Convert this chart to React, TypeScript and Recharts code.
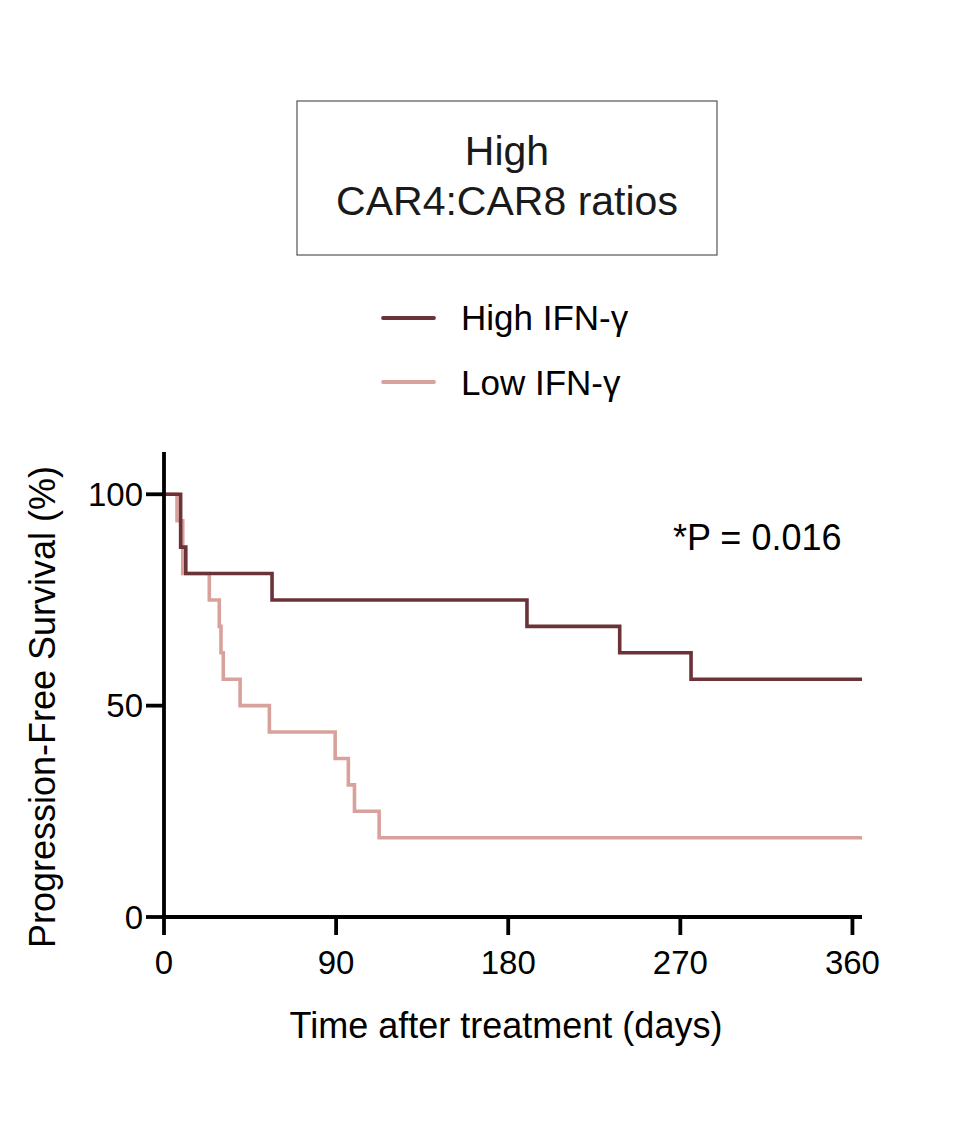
import { LineChart, Line, XAxis, YAxis } from "recharts";

const FONT = "'Liberation Sans', Arial, Helvetica, sans-serif";

// Kaplan-Meier steps (days, % progression-free)
const highDays = [0, 8.7, 11.4, 56.5, 189.8, 238.3, 275.6, 365];
const highPfs = [100, 87.5, 81.25, 75, 68.75, 62.5, 56.25, 56.25];

const lowDays = [0, 6.8, 9.8, 23.7, 28.9, 29.8, 31, 39.8, 55.1, 89.5, 96.4, 99.6, 112.5, 365];
const lowPfs = [100, 93.75, 81.25, 75, 68.75, 62.5, 56.25, 50, 43.75, 37.5, 31.25, 25, 18.75, 18.75];

const xTicks = [0, 90, 180, 270, 360];
const yTicks = [0, 50, 100];

const seriesNames = ["High IFN-γ", "Low IFN-γ"];
const seriesColors = ["#6b3338", "#d9a19b"];

const titleLines = ["High", "CAR4:CAR8 ratios"];
const pValue = "*P = 0.016";

const highData = highDays.map((d, i) => ({ day: d, pfs: highPfs[i] }));
const lowData = lowDays.map((d, i) => ({ day: d, pfs: lowPfs[i] }));

export default function App() {
    const axisStyle = { stroke: "#000", strokeWidth: 3.8 };
    const tickStyle = { fill: "#000", fontSize: 33, fontFamily: FONT };

    return (
        <div style={{ position: "absolute", left: 0, top: 0, width: 965, height: 1141, background: "#fff" }}>
            <LineChart
                width={965}
                height={1141}
                margin={{ top: 452, right: 103, bottom: 124, left: 64 }}
            >
                <XAxis
                    dataKey="day"
                    type="number"
                    domain={[0, 365]}
                    ticks={xTicks}
                    height={100}
                    axisLine={axisStyle}
                    tickLine={axisStyle}
                    tickSize={18}
                    tickMargin={16}
                    tick={tickStyle}
                    allowDataOverflow
                />
                <YAxis
                    type="number"
                    domain={[0, 110]}
                    ticks={yTicks}
                    width={100}
                    axisLine={axisStyle}
                    tickLine={axisStyle}
                    tickSize={18}
                    tickMargin={3}
                    tick={tickStyle}
                />
                <Line
                    data={lowData}
                    dataKey="pfs"
                    name={seriesNames[1]}
                    type="stepAfter"
                    stroke={seriesColors[1]}
                    strokeWidth={3.6}
                    dot={false}
                    activeDot={false}
                    isAnimationActive={false}
                />
                <Line
                    data={highData}
                    dataKey="pfs"
                    name={seriesNames[0]}
                    type="stepAfter"
                    stroke={seriesColors[0]}
                    strokeWidth={3.6}
                    dot={false}
                    activeDot={false}
                    isAnimationActive={false}
                />
            </LineChart>

            {/* title box, legend, p-value and axis titles */}
            <svg
                width={965}
                height={1141}
                style={{ position: "absolute", left: 0, top: 0, pointerEvents: "none" }}
                fontFamily={FONT}
            >
                <rect x={297} y={101} width={420} height={154} fill="none" stroke="#555" strokeWidth={1.2} />
                <text x={507} y={165} fontSize={41} textAnchor="middle" fill="#1a1a1a">
                    {titleLines[0]}
                </text>
                <text x={507} y={215} fontSize={41} textAnchor="middle" fill="#1a1a1a">
                    {titleLines[1]}
                </text>

                {seriesNames.map((name, i) => (
                    <g key={name}>
                        <line
                            x1={383}
                            x2={434}
                            y1={318 + i * 64}
                            y2={318 + i * 64}
                            stroke={seriesColors[i]}
                            strokeWidth={3.8}
                            strokeLinecap="round"
                        />
                        <text x={461} y={330 + i * 65} fontSize={35} fill="#000">
                            {name}
                        </text>
                    </g>
                ))}

                <text x={673} y={550} fontSize={36} fill="#000">
                    {pValue}
                </text>

                <text x={506} y={1038} fontSize={36} textAnchor="middle" fill="#000">
                    Time after treatment (days)
                </text>
                <text
                    x={55}
                    y={707}
                    fontSize={36}
                    textAnchor="middle"
                    fill="#000"
                    transform="rotate(-90 55 707)"
                >
                    Progression-Free Survival (%)
                </text>
            </svg>
        </div>
    );
}
